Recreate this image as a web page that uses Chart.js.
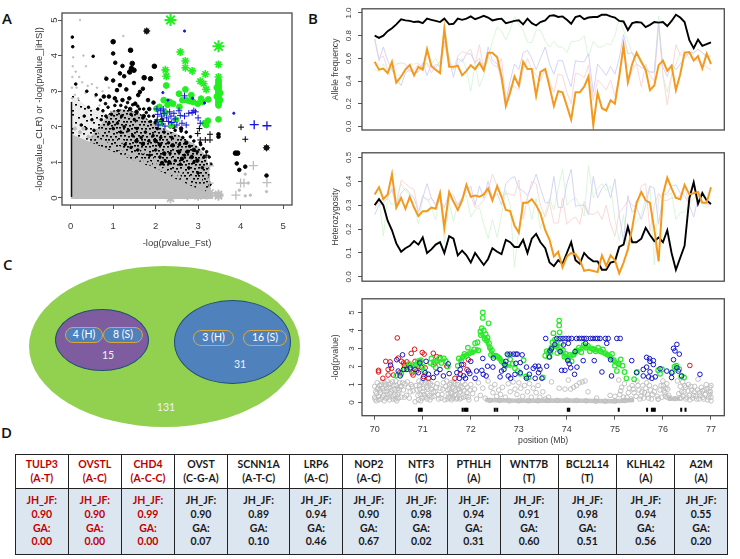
<!DOCTYPE html>
<html>
<head>
<meta charset="utf-8">
<script src="https://cdn.jsdelivr.net/npm/chart.js@4"></script>
<style>
  html, body { margin: 0; padding: 0; background: #fff; }
  #page { position: relative; width: 740px; height: 559px; overflow: hidden; font-family: Lato, sans-serif; }
  canvas { position: absolute; }
  .tag { position: absolute; font: 600 15px "Open Sans", sans-serif; color: #111; }
  .blob { position: absolute; box-sizing: border-box; border-radius: 50%; }
  .pill { position: absolute; box-sizing: border-box; background: #4f81bd; border: 1.5px solid #d8a83c; border-radius: 8px;
          color: #fff; font-size: 10.5px; text-align: center; line-height: 13.5px; }
  .num { position: absolute; color: #f2f2f2; font-size: 10.5px; transform: translate(-50%, -50%); }
  table { position: absolute; left: 15px; top: 454px; width: 712px; height: 101px; border-collapse: collapse; table-layout: fixed;
          font: 700 10.5px/13.6px Lato, sans-serif; text-align: center; color: #1a1a1a; }
  td { border: 1.4px solid #222; padding: 0; }
  tr.head td { height: 33px; background: #fff; }
  tr.body td { background: #dce6f1; }
  .hit { color: #c00000; }
</style>
</head>
<body>
<div id="page">
  <div class="tag" style="left:2px;top:8px">A</div>
  <div class="tag" style="left:308px;top:8px">B</div>
  <div class="tag" style="left:3px;top:254px">C</div>
  <div class="tag" style="left:1px;top:422px">D</div>

  <canvas id="chart-a" width="290" height="245" style="left:10px;top:5px"></canvas>
  <canvas id="chart-freq" width="420" height="142" style="left:320px;top:0"></canvas>
  <canvas id="chart-het" width="420" height="146" style="left:320px;top:144px"></canvas>
  <canvas id="chart-p" width="420" height="157" style="left:320px;top:290px"></canvas>

  <div class="blob" style="left:29px;top:266px;width:271px;height:161px;background:#92d050"></div>
  <div class="blob" style="left:55px;top:309px;width:94px;height:62px;background:#7f5ca0;border:1.3px solid #1f4e79"></div>
  <div class="blob" style="left:174px;top:300px;width:117px;height:84px;background:#4f81bd;border:1.3px solid #1f4e79"></div>
  <div class="pill" style="left:65px;top:327px;width:38px;height:16px">4 (H)</div>
  <div class="pill" style="left:103px;top:327px;width:40px;height:16px">8 (S)</div>
  <div class="pill" style="left:193px;top:330px;width:41px;height:16px">3 (H)</div>
  <div class="pill" style="left:243px;top:330px;width:44px;height:16px">16 (S)</div>
  <div class="num" style="left:108px;top:355px">15</div>
  <div class="num" style="left:240px;top:364px">31</div>
  <div class="num" style="left:166px;top:407px">131</div>

  <table id="genes"></table>
</div>

<script>
// ===== PANEL A: Fst vs CLR/iHS =====
const aTicks = [0, 1, 2, 3, 4, 5];
const aGrayArea = [[0,1.8],[.5,1.55],[1,1.3],[1.5,1.05],[2,.82],[2.5,.52],[3,.25],[3.35,.12],[3.36,-.03]];
const aBandLight = [[.03,2.9],[.2,2.75],[.4,2.55],[.7,2.45],[1.1,2.2],[2,1.2],[3,.5],[3.36,.14]];
const aBandDark = [[.45,1.7],[.7,2.05],[.95,2.45],[1.25,2.5],[1.6,2.4],[2,2.05],[2.5,1.8],[3,1.45],[3.2,1.15],[3.26,.8],[3.3,.3]];
const aAxisLine = [[.02,.03],[.02,2.7]];
const aGraySpecks = [[.03,2.8],[.03,3.1],[.04,3.4],[.05,3.7],[.06,3.95],[.03,4.25],[.03,4.5],[.22,5],[.3,4],[.36,3.7],[.12,3.55],[.2,3.4],[.27,3.25],[.4,3.15],[.5,3.2],[.62,3.1],[.14,3.1],[.75,3.0],[.35,2.95],[1.24,4.55],[.82,3.4],[.9,3.1],[.1,2.9],[.18,2.8],[.58,2.85],[.68,2.6]];
const aGrayFringe = [[.1,1.95],[.22,1.85],[.3,1.95],[.42,1.72],[.55,1.7],[.66,1.62],[.78,1.55],[.9,1.52],[1.02,1.42],[1.14,1.4],[1.25,1.3],[1.38,1.24],[1.5,1.2],[1.62,1.1],[1.75,1.05],[1.86,.98],[1.98,.95],[2.08,.85],[2.2,.8],[2.32,.72],[2.44,.66],[2.55,.6],[2.66,.52],[2.78,.45],[2.9,.38],[3.02,.34],[3.14,.27],[3.26,.22],[.7,1.85],[1.2,1.6],[1.7,1.3],[2.15,1.02],[2.6,.75],[3.05,.5],[3.2,.6]];
const aBlackSmall = [[.04,4.52],[.05,4.25],[.53,3.98],[.12,3.2],[.38,3],[.42,2.55],[.6,2.9],[.7,2.75],[.82,2.65],[.32,2.3],[.5,2.2],[.64,2.5],[.76,2.45],[.88,2.55],[.96,2.35],[1.04,2.6],[1.12,2.45],[1.2,2.3],[1.3,2.55],[1.42,2.35],[1.5,2.2],[1.62,2.5],[1.7,2.25],[1.78,2.4],[1.88,2.15],[1.95,2.3],[.9,2.1],[1,1.95],[1.1,2.1],[1.18,1.85],[1.26,2],[1.36,1.9],[1.46,1.75],[1.56,1.95],[1.66,1.7],[1.76,1.85],[1.84,1.6],[1.94,1.75],[2.04,1.95],[2.12,1.7],[2.2,1.85],[2.3,1.55],[2.38,1.7],[2.46,1.9],[2.56,1.5],[2.64,1.7],[2.72,1.85],[2.8,1.45],[2.9,1.6],[2.98,1.3],[3.06,1.5],[3.14,1.15],[3.2,1.3],[1.28,1.5],[1.42,1.42],[1.58,1.35],[1.7,1.25],[1.86,1.2],[2,1.35],[2.1,1.15],[2.22,1.05],[2.34,1.25],[2.46,1.05],[2.58,.95],[2.68,1.2],[2.78,.85],[2.9,1.0],[3,.7],[3.1,.85],[3.22,.6],[3.28,.38],[.25,2.05],[.36,1.95],[.55,1.9],[.72,2.2],[.83,2.3],[1.08,2.72],[1.18,2.6],[1.34,2.68],[1.46,2.62],[1.58,2.58],[1.72,2.5],[1.84,2.3],[2.02,2.18],[2.16,2.08],[2.34,2],[2.6,1.88],[2.82,1.72],[3.05,1.55],[3.12,1.38],[3.26,1.15],[3.3,.95]];
const aBlackMid = [[1,4.06],[1.05,3.8],[1.22,3.71],[1.16,3.5],[1.26,3.42],[.84,3.35],[1,3.3],[1.16,3.17],[1.49,3.23],[1.31,3.05],[1.09,3.03],[.78,2.85],[.9,2.85],[1.04,2.8],[1.22,2.75],[1.38,2.8],[1.52,2.65],[1.63,2.98],[1.7,3.07],[1.59,2.89],[1.82,2.75],[1.95,2.68],[1.4,2.5],[1.55,2.42],[1.72,2.3],[1.85,2.5],[2.0,2.12],[2.15,2.2],[2.42,2.0],[2.6,1.95],[2.4,1.48],[2.1,1.5],[2.55,1.3],[2.2,1.25],[2.72,1.55],[2.75,1.3],[2.9,1.35],[1.55,1.6],[1.7,1.52],[2.0,1.6],[2.15,.98],[2.32,1.0],[2.62,1.1],[2.85,1.15],[2.98,1.05],[3.48,1.79],[3.48,1.72],[3.91,.97],[4.11,.88],[3.97,.79],[4.61,.63]];
const aBlackLarge = [[1,4.39],[1.41,4.15],[1.45,3.78],[1.43,3.64],[1.49,3.59],[1.39,3.54],[1.97,3.7],[1.73,3.38],[1.88,3.35],[3.88,1.26],[3.93,1.26]];
const aBlackHuge = [[1.79,4.69],[4.61,1.41]];
const aBlackPlus = [[4.01,1.99],[4.11,1.65],[3.28,1.79],[3.17,1.63],[3.28,1.63],[3.05,1.63],[2.99,1.81],[3.03,1.95],[3.19,1.2]];
const aGrayPlus = [[3.27,.9],[4.3,.91],[4,.42],[4.08,.42],[4.62,.43],[3.89,.08],[3.26,.42]];
const aGraySmall = [[4.61,.18],[4.11,.67],[4.11,.06],[4.23,.08],[3.97,.22],[4.18,.42]];
const aGrayBlob = [[3.48,.06],[3.48,.1],[3.2,.1],[3.28,.14],[2.35,-.01],[3,.06],[2.75,.08]];
const aGreenHuge = [[2.35,5],[3.48,4.26]];
const aGreenStars = [[2.58,4.1],[2.7,3.85],[2.7,3.66],[2.86,3.57],[3.17,3.48],[3.48,3.75],[3.48,3.4],[2.23,3.6],[2.25,3.42],[3.05,3.28],[3.13,3.21],[3.19,3.05]];
const aGreenDots = [[3.48,3.3],[3.48,3.25],[3.48,3.2],[3.48,3.15],[3.48,3.1],[3.48,3.05],[3.48,3],[3.48,2.95],[3.48,2.9],[3.48,2.85],[3.48,2.8],[3.48,2.75],[3.48,2.7],[3.48,2.65],[3.48,2.6],[3.44,3.1],[3.52,2.95],[3.44,2.85],[3.52,2.75],[2.25,3.16],[2.19,2.75],[2.7,3.05],[2.55,2.93],[2.84,2.89],[3.07,2.79],[3.24,2.77],[3.11,2.7],[2.56,2.56],[2.72,2.75],[2.8,2.72],[2.88,2.7],[2.99,2.65],[3.48,2.21],[3.23,2.17],[3.19,2.05],[2.37,2.05],[2.02,2.51],[2.09,2.56],[2.33,2.7],[2.41,2.65],[2.28,2.62],[2.1,2.1],[2.23,2.4],[2.48,2.2],[2.63,2.75],[3.15,2.1]];
const aBluePlus = [[2.03,2.5],[2.05,2.35],[2.04,2.2],[2.06,2.05],[2.12,2.45],[2.14,2.3],[2.15,2.15],[2.18,2.5],[2.2,2.38],[2.22,2.02],[2.26,2.25],[2.3,2.15],[2.33,2.42],[2.36,2.3],[2.38,2.12],[2.43,2.38],[2.46,2.22],[2.5,2.05],[2.55,2.45],[2.58,2.32],[2.62,2.1],[2.68,2.3],[2.72,2.05],[2.78,2.38],[2.86,2.4],[2.9,2.45],[2.94,2.42],[3,2.25],[3.05,2.1],[2.68,2.87]];
const aBlueSmall = [[2.68,4.69],[3.84,2.38],[3.15,2.67],[2.17,2.96],[2.29,2.75],[2.87,2.8]];
const aBlueBig = [[4.32,2.06],[4.62,2.03]];

// ===== PANEL B: sliding windows, position in Mb =====
const windows = [70,70.09,70.18,70.27,70.36,70.45,70.55,70.64,70.73,70.82,70.91,71,71.09,71.18,71.27,71.36,71.45,71.55,71.64,71.73,71.82,71.91,72,72.09,72.18,72.27,72.36,72.45,72.55,72.64,72.73,72.82,72.91,73,73.09,73.18,73.27,73.36,73.45,73.55,73.64,73.73,73.82,73.91,74,74.09,74.18,74.27,74.36,74.45,74.55,74.64,74.73,74.82,74.91,75,75.09,75.18,75.27,75.36,75.45,75.55,75.64,75.73,75.82,75.91,76,76.09,76.18,76.27,76.36,76.45,76.55,76.64,76.73,76.82,76.91,77];
const freqTicks = [0, .2, .4, .6, .8, 1];
const freqBlack = [.80,.78,.80,.84,.865,.90,.945,.935,.93,.92,.925,.91,.95,.94,.93,.92,.95,.90,.905,.95,.94,.95,.97,.945,.96,.975,.96,.935,.945,.95,.91,.92,.93,.935,.90,.95,.91,.89,.92,.935,.975,.98,.965,.97,.94,.905,.965,.975,.945,.96,.965,.965,.985,.985,.97,.96,.93,.925,.85,.91,.92,.915,.875,.895,.92,.915,.92,.885,.93,.985,.96,.92,.76,.69,.765,.71,.725,.74];
const freqOrange = [.57,.50,.51,.47,.57,.385,.44,.50,.54,.45,.525,.50,.68,.53,.50,.47,.86,.525,.525,.535,.45,.49,.54,.505,.56,.495,.65,.65,.61,.44,.18,.30,.44,.36,.57,.505,.505,.27,.48,.505,.35,.18,.31,.30,.18,.06,.30,.30,.35,.44,.01,.295,.16,.14,.23,.20,.44,.71,.39,.55,.65,.57,.50,.32,.36,.54,.58,.49,.535,.32,.46,.65,.655,.58,.62,.51,.64,.55];
const freqGreen = [.50,.48,.55,.48,.52,.46,.44,.50,.55,.55,.56,.50,.53,.55,.60,.52,.90,.60,.50,.55,.60,.50,.31,.55,.35,.45,.60,.75,.88,.84,.76,.85,.97,.90,.85,.74,.74,.85,.85,.75,.70,.75,.70,.70,.65,.75,.75,.76,.80,.61,.75,.70,.70,.73,.72,.80,.95,.85,.75,.65,.60,.55,.50,.48,.47,.97,.45,.30,.45,.55,.65,.67,.60,.65,.68,.65,.60,.60];
const freqBlue = [.77,.58,.70,.58,.50,.42,.36,.47,.50,.47,.48,.56,.45,.55,.52,.57,.75,.60,.43,.60,.57,.64,.64,.56,.60,.50,.70,.58,.55,.40,.22,.40,.55,.50,.65,.67,.60,.50,.60,.70,.55,.46,.58,.58,.45,.35,.58,.57,.57,.64,.30,.55,.50,.45,.53,.46,.60,.81,.64,.65,.55,.52,.50,.48,.48,.90,.52,.44,.55,.50,.55,.60,.65,.65,.68,.65,.62,.62];
const freqRed = [.77,.60,.62,.50,.50,.55,.56,.55,.48,.50,.55,.52,.56,.47,.55,.53,.72,.55,.50,.62,.66,.65,.68,.55,.72,.50,.62,.55,.52,.60,.22,.35,.35,.32,.50,.60,.50,.45,.40,.50,.40,.30,.46,.45,.30,.20,.47,.46,.43,.54,.23,.41,.37,.32,.41,.27,.44,.75,.37,.50,.55,.35,.55,.45,.40,.90,.45,.19,.45,.72,.63,.63,.64,.60,.58,.55,.52,.50];

const hetTicks = [0, .1, .2, .3, .4, .5];
const hetBlack = [.30,.325,.30,.235,.195,.14,.105,.12,.13,.15,.135,.165,.10,.115,.135,.145,.10,.17,.16,.09,.11,.09,.06,.10,.075,.05,.075,.12,.105,.095,.155,.145,.125,.125,.155,.10,.16,.18,.145,.12,.06,.045,.07,.055,.10,.145,.07,.055,.10,.08,.065,.065,.03,.03,.06,.065,.125,.135,.21,.145,.145,.16,.205,.175,.15,.165,.145,.195,.10,.03,.08,.13,.33,.395,.305,.35,.32,.305];
const hetOrange = [.345,.375,.325,.345,.43,.29,.33,.285,.335,.29,.255,.275,.275,.29,.285,.35,.205,.355,.315,.28,.32,.385,.335,.34,.335,.345,.37,.32,.38,.335,.28,.275,.215,.185,.31,.31,.325,.30,.265,.195,.155,.085,.105,.04,.085,.10,.095,.07,.025,.03,.025,.02,.09,.045,.09,.07,.015,.06,.115,.205,.31,.355,.32,.31,.20,.065,.345,.415,.37,.33,.325,.385,.345,.35,.355,.31,.31,.375];
const hetBlue = [.26,.30,.31,.33,.37,.30,.35,.37,.35,.33,.27,.33,.39,.33,.30,.32,.29,.35,.34,.30,.33,.36,.38,.30,.38,.33,.40,.33,.35,.30,.39,.41,.42,.37,.36,.34,.38,.43,.37,.31,.31,.42,.29,.29,.39,.45,.295,.30,.30,.26,.42,.33,.37,.39,.33,.41,.26,.15,.34,.27,.29,.24,.30,.38,.37,.22,.34,.35,.38,.385,.35,.34,.30,.25,.33,.36,.32,.30];
const hetRed = [.285,.31,.33,.34,.36,.30,.405,.39,.375,.365,.27,.34,.32,.33,.30,.36,.22,.34,.31,.30,.32,.38,.34,.29,.30,.32,.36,.43,.38,.33,.35,.345,.34,.405,.24,.33,.40,.39,.30,.25,.31,.225,.225,.33,.22,.24,.25,.22,.315,.265,.26,.275,.24,.30,.22,.17,.27,.29,.32,.30,.29,.38,.39,.19,.30,.35,.32,.32,.33,.33,.34,.38,.30,.405,.32,.31,.30,.305];
const hetGreen = [.30,.33,.17,.33,.30,.32,.39,.36,.34,.30,.22,.33,.33,.29,.24,.36,.14,.31,.23,.31,.33,.34,.25,.28,.29,.22,.16,.24,.165,.26,.36,.30,.04,.20,.30,.33,.24,.33,.20,.27,.33,.28,.37,.45,.30,.32,.33,.30,.255,.465,.33,.37,.39,.36,.38,.24,.15,.26,.10,.20,.23,.26,.33,.38,.05,.33,.35,.34,.35,.24,.27,.27,.30,.33,.33,.30,.29,.31];

const posTicks = [70, 71, 72, 73, 74, 75, 76, 77];
const pTicks = [0, 1, 2, 3, 4, 5];
const pRed = [[70.47,3.59],[76.56,2.06],[70.08,1.79],[70.08,1.7],[70.17,1.35],[70.23,2.29],[70.32,2.26],[70.28,1.84],[70.35,1.9],[70.28,1.53],[70.39,1.53],[70.49,2.47],[70.56,2.29],[70.83,2.96],[70.76,2.73],[70.99,2.78],[71.03,2.69],[71.22,2.74],[71.29,2.55],[71.36,2.51],[70.6,2.2],[70.67,2.26],[70.7,2.11],[70.74,1.84],[70.8,1.53],[70.87,1.75],[70.91,2.02],[70.84,2.29],[70.94,2.29],[71.05,1.93],[71.12,1.35],[71.95,2.38],[71.85,2.11],[71.92,1.84],[71.67,1.35],[71.78,1.57],[71.5,2.02],[71.26,2.2],[70.62,2.05],[70.52,1.65],[70.78,1.65],[70.97,1.95],[71.02,1.45]];
const pBlue = [[70.58,2.65],[70.46,2.38],[70.33,2.08],[70.49,1.75],[70.53,1.48],[70.6,1.84],[70.67,1.84],[70.74,1.93],[70.84,1.84],[70.91,1.66],[70.94,2.2],[71.07,2.29],[71.01,1.35],[71.05,1.66],[71.12,1.57],[71.22,1.39],[71.29,1.66],[71.36,1.84],[71.43,1.48],[71.53,2.15],[71.55,1.61],[71.71,1.66],[71.78,1.84],[71.81,2.11],[71.76,1.35],[71.85,1.48],[71.89,1.35],[71.95,1.75],[72,2.29],[71.98,1.61],[72.09,1.35],[72.12,1.75],[72.23,1.79],[72.25,2.45],[72.26,1.57],[72.32,1.48],[72.35,2.02],[72.47,2.47],[72.46,1.97],[72.61,1.43],[72.64,1.75],[72.69,1.84],[72.71,2.11],[72.73,2.29],[72.78,1.48],[72.83,1.35],[72.76,2.69],[72.82,2.69],[72.89,2.69],[72.94,2.69],[72.97,2.69],[73.07,2.65],[72.94,2.18],[73.03,2.22],[72.92,1.57],[73.03,1.66],[73.16,1.97],[73.16,1.35],[73.22,1.57],[73.3,1.9],[73.34,2.02],[73.41,2.02],[73.34,1.35],[73.48,1.35],[73.41,1.66],[73.44,1.84],[73.58,2.02],[73.56,3.56],[73.64,2.53],[73.65,2.87],[73.68,2.98],[73.75,3.23],[73.79,3.56],[73.86,3.56],[73.92,3.56],[73.98,3.56],[74.04,3.56],[74.1,3.56],[74.2,3.56],[74.26,3.56],[74.31,3.56],[74.36,3.56],[74.41,3.56],[74.49,3.56],[74.54,3.56],[74.6,3.56],[74.64,3.56],[74.69,3.56],[74.8,3.56],[74.86,3.56],[75.04,3.56],[75.11,3.56],[73.89,1.79],[73.96,1.79],[74.02,2.33],[74.05,2.15],[74.08,1.93],[74.16,1.57],[74.21,1.97],[74.17,2.83],[74.03,3.29],[73.93,3.2],[73.86,2.83],[74.34,2.33],[74.39,3.29],[74.57,2.33],[74.73,1.7],[74.83,3.29],[74.91,2.38],[74.93,1.48],[75.35,2.33],[75.45,1.66],[75.59,1.48],[75.59,1.84],[75.66,1.97],[75.66,2.51],[75.72,2.44],[75.73,2.29],[75.8,2.33],[75.8,2.11],[75.73,1.71],[75.7,1.43],[75.77,1.35],[75.84,1.43],[75.94,1.88],[76.08,1.75],[76.18,1.66],[76.18,1.39],[76.22,2.38],[76.22,3.01],[76.25,2.87],[76.29,3.23],[76.34,2.69],[76.29,1.93],[76.32,1.75],[76.39,1.48],[76.77,1.57]];
const pGreen = [[70.45,1.5],[70.55,1.6],[70.62,1.85],[70.68,2],[70.72,2.15],[70.8,1.75],[70.86,2.1],[70.9,2.3],[70.96,2.35],[71,2],[71.03,1.75],[71.16,2.2],[71.18,2.45],[71.22,2.1],[71.27,1.95],[71.3,2.3],[71.34,2.45],[71.39,2.2],[71.44,2.45],[71.48,2.3],[71.52,2],[71.73,2.05],[71.75,2.45],[71.8,2.3],[71.84,2.55],[71.87,2.7],[71.91,2.6],[71.94,3.05],[71.98,2.75],[72.03,2.8],[72.07,2.95],[72.09,3.3],[72.14,3.35],[72.16,2.9],[72.2,3.95],[72.21,3.75],[72.23,4.13],[72.25,5],[72.25,4.7],[72.27,4],[72.29,3.55],[72.31,3.8],[72.33,3.45],[72.35,3.6],[72.37,4.4],[72.38,3.3],[72.4,3.05],[72.42,2.65],[72.44,2.9],[72.47,2.6],[72.52,2.6],[72.56,2.55],[72.6,2.45],[72.64,2.3],[72.68,2.2],[72.72,2.05],[72.78,2.65],[72.82,2.4],[72.87,2.15],[72.92,1.9],[72.98,1.75],[73.03,1.6],[73.1,2.35],[73.15,1.45],[73.2,1.4],[73.5,1.4],[73.55,2.6],[73.58,2.85],[73.62,2.55],[73.66,2.8],[73.68,3.05],[73.7,3.35],[73.72,3.85],[73.75,3.5],[73.78,3.15],[73.8,2.75],[73.82,3.5],[73.84,4.55],[73.84,4.28],[73.85,3.9],[73.88,3.3],[73.92,2.9],[73.95,2.55],[73.98,2.7],[74.02,2.4],[74.06,2.65],[74.1,2.3],[74.14,2.65],[74.2,2.9],[74.25,3.05],[74.3,2.8],[74.35,3.2],[74.4,3.05],[74.44,3.15],[74.48,2.85],[74.52,3],[74.56,2.95],[74.6,2.85],[74.65,3.05],[74.7,2.85],[74.75,2.95],[74.8,2.75],[74.85,2.65],[74.9,2.55],[74.94,2.7],[74.98,2.35],[75,2.05],[75.04,1.75],[75.08,2.15],[75.12,2.4],[75.16,2.05],[75.2,1.7],[75.24,1.35],[75.4,1.3],[75.46,1.7],[75.9,1.8],[75.94,1.6],[75.98,1.85],[76.2,1.7],[76.24,2],[76.28,2.05],[76.34,1.85],[76.38,1.45],[76.44,1.4]];
const ridgeRise = [[71.75,2.3],[71.9,2.65],[72.1,2.85],[72.16,3.05]];
const ridgePeak = [[72.2,3.85],[72.3,3.6],[72.38,3.1],[72.45,2.7],[72.6,2.45],[72.72,2.1],[72.85,2]];
const ridgeArc = [[73.58,2.7],[73.75,3.2],[73.9,2.8],[74,2.45],[74.15,2.7],[74.35,3.1],[74.6,2.95],[74.85,2.65],[75,2.25],[75.12,2.05]];
const ridgeLeft = [[70.72,2.05],[70.98,2.2]];
const ridgeMid = [[71.18,2.3],[71.46,2.35]];
const ridgeRight = [[76.22,1.95],[76.33,1.9]];
const pGray = [[70,.9],[70.02,.6],[70,.3],[70.03,.1],[70.05,1.1],[70.06,.75],[70.08,.35],[70.1,.95],[70.12,.55],[70.13,.2],[70.15,1.15],[70.17,.8],[70.18,.4],[70.2,.1],[70.22,.95],[70.24,.6],[70.26,1.2],[70.28,.3],[70.3,.85],[70.32,.5],[70.33,1.05],[70.36,.7],[70.38,.2],[70.4,.95],[70.42,.45],[70.44,1.2],[70.46,.1],[70.48,.8],[70.5,.55],[70.52,1.1],[70.56,.9],[70.6,.7],[70.63,1.05],[70.66,.4],[70.7,.85],[70.72,.25],[70.76,1],[70.8,.65],[70.84,.05],[70.86,.95],[70.9,.4],[70.92,1.2],[70.94,.75],[70.96,.1],[71,.6],[71.02,1],[71.05,.3],[71.08,.85],[71.1,.5],[71.12,1.15],[71.15,.15],[71.18,.75],[71.2,.95],[71.24,.35],[71.26,.6],[71.3,1.05],[71.33,.2],[71.36,.8],[71.4,.45],[71.43,1.1],[71.46,.15],[71.5,1.2],[71.52,.7],[71.54,.3],[71.56,1],[71.58,.55],[71.6,.15],[71.62,.85],[71.64,1.15],[71.66,.4],[71.68,.7],[71.7,.2],[71.73,1],[71.76,.55],[71.78,.9],[71.8,.25],[71.83,1.15],[71.86,.65],[71.9,.35],[71.93,.85],[71.96,.15],[72,1],[72.04,.5],[72.08,.75],[72.12,.2],[72.16,1.1],[72.2,.4],[72.25,.8],[72.3,.25],[72.36,1.2],[72.42,.85],[72.46,.55],[72.5,1],[72.54,.35],[72.58,.7],[72.62,.45],[72.66,.85],[72.72,.3],[72.78,1.05],[72.82,.6],[72.88,1.15],[72.92,.75],[72.96,.45],[73,1.1],[73.04,.8],[73.08,.35],[73.12,.95],[73.18,.6],[73.22,1.05],[73.26,.3],[73.3,.8],[73.36,.55],[73.4,.95],[73.44,.3],[73.5,.6],[73.55,.2],[73.62,.3],[73.68,1.15],[73.84,.8],[73.96,.75],[74.03,1.25],[74.08,.75],[74.14,.85],[74.2,.95],[74.26,1.1],[74.32,1.15],[74.38,1.2],[74.44,.6],[74.62,.25],[74.9,.4],[75,.35],[75.08,1.25],[75.1,.45],[75.14,.85],[75.2,1.05],[75.25,.3],[75.3,.8],[75.36,.95],[75.4,.55],[75.46,1.2],[75.5,.7],[75.54,.35],[75.58,.95],[75.62,.55],[75.66,1.1],[75.7,.25],[75.74,.7],[75.78,.45],[75.84,.85],[75.9,.2],[75.96,.95],[76,1.2],[76.02,.65],[76.05,.35],[76.08,1.05],[76.1,.75],[76.12,.4],[76.3,1.2],[76.33,.5],[76.36,.9],[76.38,.25],[76.41,1.15],[76.44,.6],[76.47,.85],[76.5,.3],[76.53,1],[76.56,.15],[76.6,.7],[76.63,.4],[76.66,.9],[76.7,.2],[76.73,1.3],[76.76,.55],[76.8,.85],[76.83,.3],[76.86,.7],[76.9,1],[76.93,.15],[76.96,.6],[76.98,.85],[77,.3],[77,.95],[77,.1],[72.4,.12],[72.6,.12],[72.8,.1],[73,.1],[73.2,.1],[73.4,.1],[73.6,.12],[73.8,.12],[74,.14],[74.2,.12],[74.4,.1],[74.6,.08],[74.8,.08],[75,.1],[75.2,.12],[75.9,.2],[76.15,.25],[76.25,.22]];
const pGrayDense = [[70.01,.2],[70.04,.5],[70.07,.8],[70.09,.15],[70.11,.7],[70.14,1],[70.16,.3],[70.19,.65],[70.21,1.1],[70.23,.25],[70.25,.8],[70.27,.45],[70.29,1],[70.31,.15],[70.34,.6],[70.37,1.15],[70.39,.35],[70.41,.75],[70.43,.2],[70.45,.95],[70.47,.45],[70.49,.25],[70.51,.7],[70.53,.9],[70.55,.3],[70.58,1.1],[70.62,.3],[70.68,1.15],[70.74,.6],[70.78,.9],[70.88,.7],[70.91,.15],[70.93,.95],[70.95,.45],[70.97,1.1],[70.99,.25],[71.01,.8],[71.03,.45],[71.06,1.1],[71.09,.2],[71.11,.75],[71.14,.4],[71.16,1.05],[71.19,.3],[71.22,.6],[71.28,.85],[71.32,.45],[71.38,.25],[71.42,.75],[71.48,.9],[71.51,.2],[71.53,.5],[71.55,.8],[71.57,.25],[71.59,1.1],[71.61,.5],[71.63,.25],[71.65,.8],[71.67,1.05],[71.69,.45],[71.72,.25],[71.75,.75],[71.77,.2],[71.79,.6],[71.82,.85],[71.85,.3],[71.88,1],[71.92,.55],[71.95,.3],[71.98,.7],[75.12,.65],[75.18,.3],[75.28,.55],[75.34,.2],[75.38,.75],[75.44,.35],[75.48,.95],[75.52,.2],[75.56,.6],[75.6,.25],[75.64,.8],[75.68,.45],[75.72,.95],[75.76,.2],[75.82,.6],[75.88,.35],[75.94,.7],[75.98,.3],[76.01,.95],[76.04,.55],[76.06,.8],[76.09,.3],[76.35,.25],[76.39,.6],[76.42,.35],[76.45,.95],[76.48,.2],[76.52,.65],[76.55,.4],[76.58,.9],[76.62,.25],[76.65,.6],[76.68,.35],[76.72,.7],[76.75,.2],[76.78,.4],[76.82,.65],[76.85,.2],[76.88,.45],[76.92,.75],[76.95,.3],[76.97,.45],[76.99,.6]];
const pBaseline = [[72.3,.14],[73,.1],[74,.12],[75,.08],[75.4,.14]];
const pBaselineLow = [[76.1,.2],[76.35,.22]];
const geneMarks = [[70.92,-.4],[70.95,-.4],[70.98,-.4],[71.83,-.4],[71.87,-.4],[71.9,-.4],[71.93,-.4],[72.5,-.4],[72.55,-.4],[74.02,-.4],[74.05,-.4],[75.08,-.4],[75.67,-.4],[75.77,-.4],[75.8,-.4],[75.83,-.4],[76.38,-.4],[76.47,-.4]];

// ===== PANEL D: candidate genes =====
const geneNames = ['TULP3','OVSTL','CHD4','OVST','SCNN1A','LRP6','NOP2','NTF3','PTHLH','WNT7B','BCL2L14','KLHL42','A2M'];
const geneAlleles = ['A-T','A-C','A-C-C','C-G-A','A-T-C','A-C','A-C','C','A','T','T','A','A'];
const jhJf = ['0.90','0.90','0.99','0.90','0.89','0.94','0.90','0.98','0.94','0.91','0.98','0.94','0.55'];
const gaFreq = ['0.00','0.00','0.00','0.07','0.10','0.46','0.67','0.02','0.31','0.60','0.51','0.56','0.20'];
const geneCols = [52.6,53.4,53,53,62.3,52.7,52.6,52.4,52.6,58,58.7,58,52.7];

const table = document.getElementById('genes');
const hit = i => i < 3 ? ' class="hit"' : '';
table.innerHTML =
  '<colgroup>' + geneCols.map(w => `<col style="width:${w}px">`).join('') + '</colgroup>' +
  '<tr class="head">' + geneNames.map((g, i) => `<td${hit(i)}>${g}<br>(${geneAlleles[i]})</td>`).join('') + '</tr>' +
  '<tr class="body">' + geneNames.map((g, i) => `<td${hit(i)}>JH_JF:<br>${jhJf[i]}<br>GA:<br>${gaFreq[i]}</td>`).join('') + '</tr>';

// ===== SHARED CONFIG =====
const axisFont = 'Liberation Sans';
const textColor = '#3a3a3a';
const lineColor = '#555';

// draws the closed R-style frame around the plot
const framePlugin = {
  id: 'frame',
  afterDatasetsDraw(chart) {
    const { ctx, chartArea: a } = chart;
    ctx.save();
    ctx.strokeStyle = '#4a4a4a';
    ctx.lineWidth = 1.3;
    ctx.strokeRect(a.left, a.top, a.right - a.left, a.bottom - a.top);
    ctx.restore();
  }
};

// speckled fill for the dense part of the cloud in panel A
function speckle(base, dots, size) {
  const tile = document.createElement('canvas');
  tile.width = size; tile.height = size;
  const c = tile.getContext('2d');
  c.fillStyle = base;
  c.fillRect(0, 0, size, size);
  c.fillStyle = '#000';
  dots.forEach(([x, y]) => c.fillRect(x, y, 2, 1.6));
  return c.createPattern(tile, 'repeat');
}

function points(data, color, style, radius, extra) {
  return { data, showLine: false, pointStyle: style, pointRadius: radius, pointBackgroundColor: color, pointBorderColor: color, pointBorderWidth: 1, ...extra };
}
function circles(data, color, radius, width) {
  return { data, showLine: false, pointStyle: 'circle', pointRadius: radius, pointBackgroundColor: 'transparent', pointBorderColor: color, pointBorderWidth: width };
}
function area(data, fillStyle) {
  return { data, showLine: true, borderWidth: 0, pointRadius: 0, fill: { value: -.03 }, backgroundColor: fillStyle };
}
function trace(values, color, width) {
  return { data: windows.map((x, i) => [x, values[i]]), showLine: true, borderColor: color, borderWidth: width, pointRadius: 0, tension: 0 };
}
function ridge(data, color, width) {
  return { data, showLine: true, borderColor: color, borderWidth: width, pointRadius: 0, tension: 0 };
}

function panel(id, datasets, c) {
  // later datasets paint on top
  datasets.forEach((d, i) => { d.order = datasets.length - i; });
  return new Chart(document.getElementById(id), {
    type: 'scatter',
    data: { datasets },
    plugins: [framePlugin],
    options: {
      responsive: false,
      animation: false,
      layout: { padding: { top: c.top, right: c.right, bottom: c.xTicks ? 0 : c.bottom, left: 0 } },
      plugins: { legend: { display: false }, tooltip: { enabled: false } },
      scales: {
        x: {
          type: 'linear', min: c.xMin, max: c.xMax,
          display: !!c.xTicks,
          afterFit: s => { s.height = c.bottom; },
          afterBuildTicks: s => { if (c.xTicks) s.ticks = c.xTicks.map(value => ({ value })); },
          border: { display: false },
          grid: { drawOnChartArea: false, tickLength: 4, color: lineColor },
          ticks: { color: textColor, padding: c.xPad, maxRotation: 0, autoSkip: false, font: { family: axisFont, size: c.xSize || c.size } },
          title: { display: !!c.xTitle, text: c.xTitle, color: textColor, padding: { top: 0, bottom: c.xTitlePad }, font: { family: axisFont, size: c.titleSize } }
        },
        y: {
          type: 'linear', min: c.yMin, max: c.yMax,
          afterFit: s => { s.width = c.left; },
          afterBuildTicks: s => { s.ticks = c.yTicks.map(value => ({ value })); },
          border: { display: false },
          grid: { drawOnChartArea: false, tickLength: 4, color: lineColor },
          ticks: {
            color: textColor, padding: c.yPad, autoSkip: false, minRotation: 90, maxRotation: 90, crossAlign: 'center',
            font: { family: axisFont, size: c.size },
            callback: v => c.digits ? v.toFixed(c.digits) : String(v)
          },
          title: { display: true, text: c.yTitle, color: textColor, padding: { top: c.yTitlePad, bottom: 0 }, font: { family: axisFont, size: c.titleSize } }
        }
      }
    }
  });
}

// ===== CHARTS =====
const lightDots = [[1,2],[8,1],[14,4],[4,7],[11,9],[16,11],[2,13],[8,15]];
const darkDots = [[0,0],[4,1],[8,0],[13,2],[16,1],[2,4],[6,4],[10,5],[15,5],[0,7],[5,8],[8,8],[12,8],[17,8],[3,11],[7,11],[11,12],[14,11],[1,14],[5,15],[9,15],[13,15],[16,14]];
const bandLight = speckle('#ededed', lightDots, 18);
const bandDark = speckle('#bcbcbc', darkDots, 18);

panel('chart-a', [
  area(aBandLight, bandLight),
  points(aGraySpecks, '#bdbdbd', 'circle', .8),
  area(aBandDark, bandDark),
  points(aBlackSmall, '#000', 'circle', 1.3),
  area(aGrayArea, '#bebebe'),
  points(aGrayFringe, '#bebebe', 'circle', 1.6),
  { data: aAxisLine, showLine: true, borderColor: '#111', borderWidth: 1.5, pointRadius: 0 },
  points(aBlackMid, '#000', 'circle', 1.8),
  points(aBlackLarge, '#000', 'circle', 2.3),
  points(aBlackHuge, '#111', 'star', 3.6),
  points(aBlackHuge, '#111', 'circle', 2.4),
  points(aBlackPlus, '#000', 'cross', 3),
  points(aGrayPlus, '#bdbdbd', 'cross', 4.5, { pointBorderWidth: 1.3 }),
  points(aGraySmall, '#bdbdbd', 'circle', 1.2),
  points(aGrayBlob, '#bdbdbd', 'star', 5, { pointBorderWidth: 1.8 }),
  points(aGreenDots, '#22ee22', 'circle', 2.9),
  points(aGreenStars, '#22ee22', 'star', 4, { pointBorderWidth: 1.6 }),
  points(aGreenHuge, '#22ee22', 'star', 6, { pointBorderWidth: 2 }),
  points(aBluePlus, '#1414e0', 'cross', 3.2),
  points(aBlueSmall, '#1414e0', 'circle', 1.1),
  points(aBlueBig, '#1414e0', 'cross', 4.5, { pointBorderWidth: 1.3 })
], {
  xMin: -.204, xMax: 5.21, yMin: -.197, yMax: 5.197,
  left: 52, right: 7, top: 8, bottom: 45,
  xTicks: aTicks, yTicks: aTicks, size: 9.5, titleSize: 9.5, xPad: 12, yPad: 1,
  xTitle: '-log(pvalue_Fst)', xTitlePad: 1,
  yTitle: '-log(pvalue_CLR) or -log(pvalue_|iHS|)', yTitlePad: 24
});

const xRange = { xMin: 69.736, xMax: 77.277, left: 42, right: 15.7, size: 8, xSize: 9, titleSize: 8.7, xPad: 4, yPad: 4 };

panel('chart-freq', [
  trace(freqGreen, '#d6f5d6', .9),
  trace(freqRed, '#f9d4d4', .9),
  trace(freqBlue, '#cfcff5', .9),
  trace(freqBlack, '#000', 1.9),
  trace(freqOrange, '#f39a1e', 2)
], {
  ...xRange, yMin: -.032, yMax: 1.037, top: 2.7, bottom: 6,
  yTicks: freqTicks, digits: 1, yTitle: 'Allele frequency', yTitlePad: 10
});

panel('chart-het', [
  trace(hetGreen, '#d6f5d6', .9),
  trace(hetRed, '#f9d4d4', .9),
  trace(hetBlue, '#cfcff5', .9),
  trace(hetBlack, '#000', 1.9),
  trace(hetOrange, '#f39a1e', 2)
], {
  ...xRange, yMin: -.018, yMax: .519, top: 2.7, bottom: 4.3,
  yTicks: hetTicks, digits: 1, yTitle: 'Heterozygosity', yTitlePad: 10
});

const ridgeGreen = '#4fee4f';
panel('chart-p', [
  ridge(pBaseline, '#c6c6c6', 4.5),
  ridge(pBaselineLow, '#c6c6c6', 4),
  circles(pGray, '#bcbcbc', 2.3, .9),
  circles(pGrayDense, '#bcbcbc', 2.3, .9),
  points(geneMarks, '#000', 'line', 2, { pointRotation: 90, pointBorderWidth: 2 }),
  circles(pRed, '#e01010', 2.3, 1),
  ridge(ridgeRise, ridgeGreen, 4),
  ridge(ridgePeak, ridgeGreen, 4),
  ridge(ridgeArc, ridgeGreen, 5),
  ridge(ridgeLeft, ridgeGreen, 4),
  ridge(ridgeMid, ridgeGreen, 4),
  ridge(ridgeRight, ridgeGreen, 4),
  circles(pGreen, '#2be82b', 2.3, 1.2),
  circles(pBlue, '#1515c8', 2.3, 1)
], {
  ...xRange, yMin: -.726, yMax: 5.76, top: 6, bottom: 31.3,
  xTicks: posTicks, yTicks: pTicks, xTitle: 'position (Mb)', xTitlePad: 1,
  yTitle: '-log(pvalue)', yTitlePad: 10
});
</script>
</body>
</html>
